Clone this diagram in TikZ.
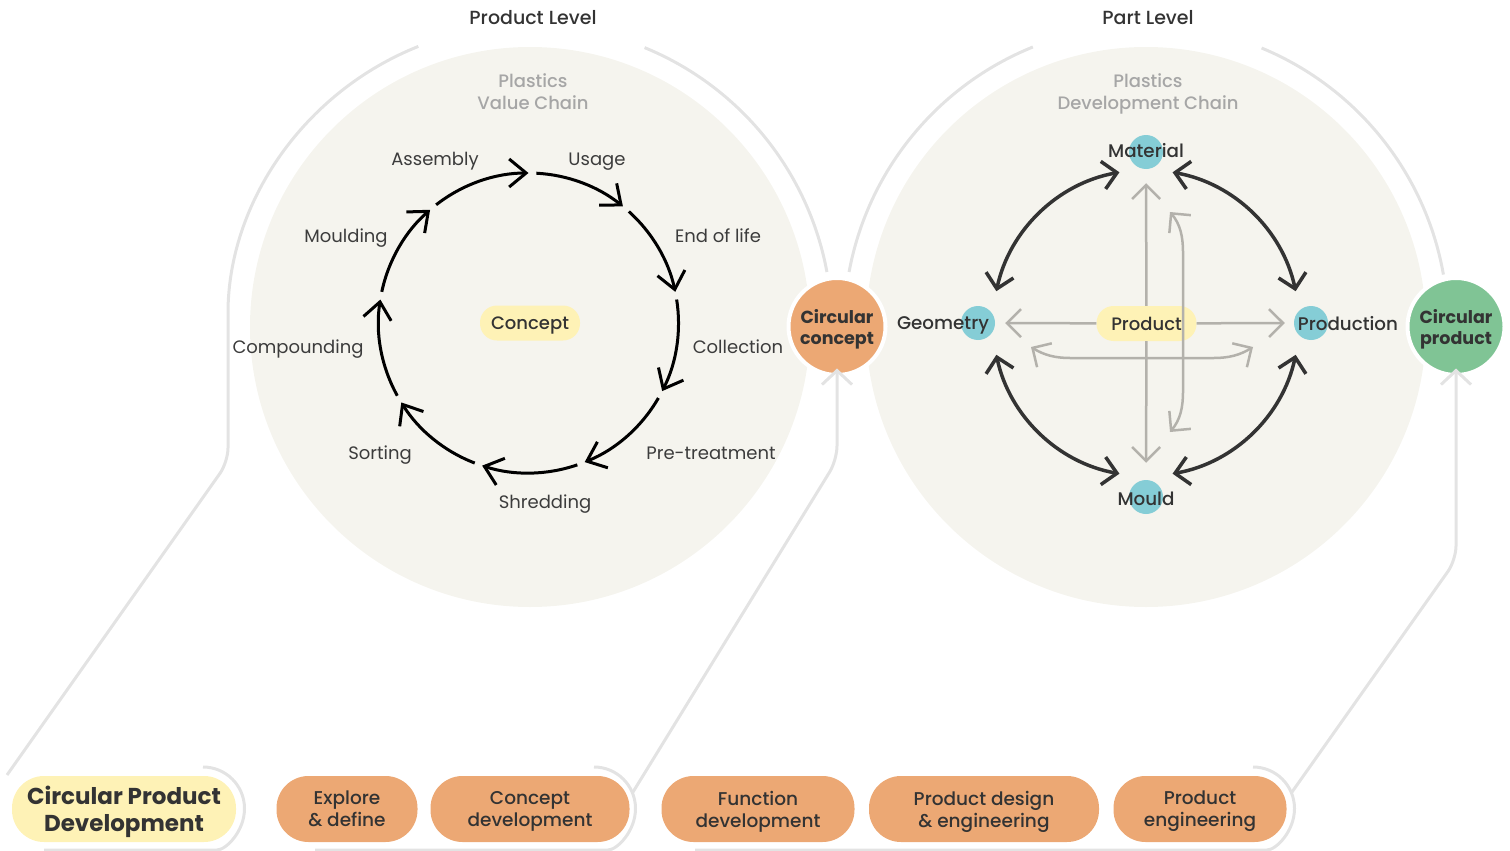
\documentclass[tikz,border=0pt]{standalone}
\usepackage{fontspec}
\setmainfont{Poppins}
\newfontfamily\pmed{Poppins Medium}
\usetikzlibrary{arrows.meta}
\definecolor{beige}{HTML}{F5F4EE}
\definecolor{pillyellow}{HTML}{FEF2B6}
\definecolor{orangec}{HTML}{ECA874}
\definecolor{greenc}{HTML}{80C495}
\definecolor{cyanc}{HTML}{85CDD6}
\definecolor{lightline}{HTML}{E3E3E3}
\definecolor{darktext}{HTML}{333333}
\definecolor{labeltext}{HTML}{3C3C3C}
\definecolor{greytext}{HTML}{A6A6A6}
\definecolor{greyarrow}{HTML}{B3B1AB}
\begin{document}
\begin{tikzpicture}[x=1pt,y=-1pt,
  conn/.style={draw=lightline, line width=3, rounded corners=14},
  connarrow/.style={conn, -{Straight Barb[length=14,width=30]}},
  ringarrow/.style={draw=black, line width=3, -{Straight Barb[length=17,width=28]}},
  duoarrow/.style={draw=darktext, line width=3.5, {Straight Barb[length=14,width=28]}-{Straight Barb[length=14,width=28]}},
  greyarr/.style={draw=greyarrow, line width=2.5, -{Straight Barb[length=14,width=28]}},
  greyduo/.style={draw=greyarrow, line width=2.5, {Straight Barb[length=14,width=28]}-{Straight Barb[length=14,width=28]}},
  ringlabel/.style={text=labeltext, font=\fontsize{18}{22}\selectfont, inner sep=0, text depth=0},
  partlabel/.style={text=darktext, font=\pmed\fontsize{18.3}{22}\selectfont, inner sep=0, text depth=0},
  heading/.style={text=darktext, font=\pmed\fontsize{19}{22}\selectfont, inner sep=0, text depth=0},
  chainlabel/.style={text=greytext, font=\pmed\fontsize{18}{22}\selectfont, align=center, inner sep=0, text depth=0},
  smallpill/.style={fill=pillyellow, rounded corners=17, minimum width=100, minimum height=35, inner sep=0,
     text depth=0, text=darktext, font=\pmed\fontsize{18}{22}\selectfont},
  bigcirc/.style={circle, draw=white, line width=4, minimum size=97, inner sep=0, align=center, text depth=0,
     text=darktext, font=\bfseries\fontsize{17.5}{21}\selectfont},
  dot/.style={circle, fill=cyanc, minimum size=34, inner sep=0},
  phase/.style={fill=orangec, rounded corners=32, minimum height=66, inner sep=0, align=center, text depth=0,
     text=darktext, font=\pmed\fontsize{18.5}{22}\selectfont},
]
\useasboundingbox (0,0) rectangle (1510,851);

% ---------- light grey brackets and connector lines ----------
\draw[conn] (44,850) -- (203,850) arc[start angle=90, end angle=-90, radius=41.5];
\draw[conn] (315,850) -- (594,850) arc[start angle=90, end angle=-90, radius=41.5];
\draw[conn] (695,850) -- (1253,850) arc[start angle=90, end angle=-90, radius=41.5];

\coordinate (lstart) at (7,775);
\draw[conn] (lstart) -- (228,462) -- (228,327) arc[start angle=180, end angle=248.3, radius=302];
\draw[conn] (530,327) ++(292.3:302) arc[start angle=292.3, end angle=349.5, radius=302];
\draw[conn] (1146,327) ++(190.5:302) arc[start angle=190.5, end angle=248, radius=302];
\draw[conn] (1146,327) ++(292.5:302) arc[start angle=292.5, end angle=350, radius=302];

% ---------- background circles ----------
\fill[beige] (530,327) circle[radius=280];
\fill[beige] (1146,327) circle[radius=280];

% ---------- headings ----------
\node[heading] (prodlevel) at (533,17) {Product Level};
\node[heading] (partlevel) at (1148,17) {Part Level};
\node[chainlabel] (valuechain) at (533,92) {Plastics\\Value Chain};
\node[chainlabel] (devchain) at (1148,92) {Plastics\\Development Chain};

% ---------- circular nodes ----------
\node[bigcirc, fill=orangec] (cc) at (837,326.5) {Circular\\concept};
\node[bigcirc, fill=greenc] (cp) at (1456,326.5) {Circular\\product};

% ---------- bottom phases ----------
\node[phase, fill=pillyellow, minimum width=224, font=\bfseries\fontsize{23}{27}\selectfont] (cpd) at (124,809) {Circular Product\\Development};
\node[phase, minimum width=141] (explore) at (347,809) {Explore\\\& define};
\node[phase, minimum width=199] (conceptdev) at (530,809) {Concept\\development};
\node[phase, minimum width=193] (funcdev) at (758,809) {Function\\development};
\node[phase, minimum width=230] (pdesign) at (984,809) {Product design\\\& engineering};
\node[phase, minimum width=173] (peng) at (1200,809) {Product\\engineering};

\coordinate (b2) at (633,792);
\coordinate (b3) at (1292,792);
\draw[connarrow] (b2) -- (837,460) -- ([yshift=8.5]cc.south);
\draw[connarrow] (b3) -- (1456,560) -- ([yshift=8.5]cp.south);

% ---------- left: plastics value chain ring ----------
\coordinate (rc) at (528.5,323);
\foreach \s/\e in {232/270, 273/309, 312/348, 351/387, 390/428, 431/468, 471/508, 511/549, 552/589}
  \draw[ringarrow] (rc) ++(\s:150) arc[start angle=\s, end angle=\e, radius=150];

\node[smallpill] (concept) at (530,323) {Concept};
\node[ringlabel] (assembly) at (435,159) {Assembly};
\node[ringlabel] (usage) at (597,159) {Usage};
\node[ringlabel] (eol) at (718,236) {End of life};
\node[ringlabel] (collection) at (738,347) {Collection};
\node[ringlabel] (pretreat) at (711,453) {Pre-treatment};
\node[ringlabel] (shredding) at (545,502) {Shredding};
\node[ringlabel] (sorting) at (380,453) {Sorting};
\node[ringlabel] (compounding) at (298,347) {Compounding};
\node[ringlabel] (moulding) at (346,236) {Moulding};

% ---------- right: plastics development chain ----------
\coordinate (pc) at (1146,323);
\node[dot] (matdot) at (1146,152) {};
\node[dot] (geodot) at (978,323) {};
\node[dot] (proddot) at (1311,323) {};
\node[dot] (moulddot) at (1146,497) {};

\draw[duoarrow] (pc) ++(260:153) arc[start angle=260, end angle=192, radius=153];
\draw[duoarrow] (pc) ++(280:153) arc[start angle=280, end angle=348, radius=153];
\draw[duoarrow] (pc) ++(12:153) arc[start angle=12, end angle=80, radius=153];
\draw[duoarrow] (pc) ++(100:153) arc[start angle=100, end angle=168, radius=153];

\node[smallpill] (product) at (1146.5,323.5) {Product};
\draw[greyarr, shorten >=14] (product) -- (matdot.south);
\draw[greyarr, shorten >=17] (product) -- (moulddot.north);
\draw[greyarr, shorten >=10] (product) -- (geodot.east);
\draw[greyarr, shorten >=9] (product) -- (proddot.west);

\coordinate (vtop) at (1170,212);
\coordinate (vbot) at (1170,432);
\coordinate (hleft) at (1031,347);
\coordinate (hright) at (1253,347);
\draw[greyduo] (vtop) .. controls (1180,224) and (1183,236) .. (1183,252) -- (1183,392) .. controls (1183,408) and (1180,420) .. (vbot);
\draw[greyduo] (hleft) .. controls (1044,355) and (1055,358) .. (1070,358) -- (1214,358) .. controls (1229,358) and (1240,355) .. (hright);

\node[partlabel] (material) at (1146,150) {Material};
\node[partlabel] (geometry) at (943,323) {Geometry};
\node[partlabel] (production) at (1348,323) {Production};
\node[partlabel] (mould) at (1146,499) {Mould};
\end{tikzpicture}
\end{document}
